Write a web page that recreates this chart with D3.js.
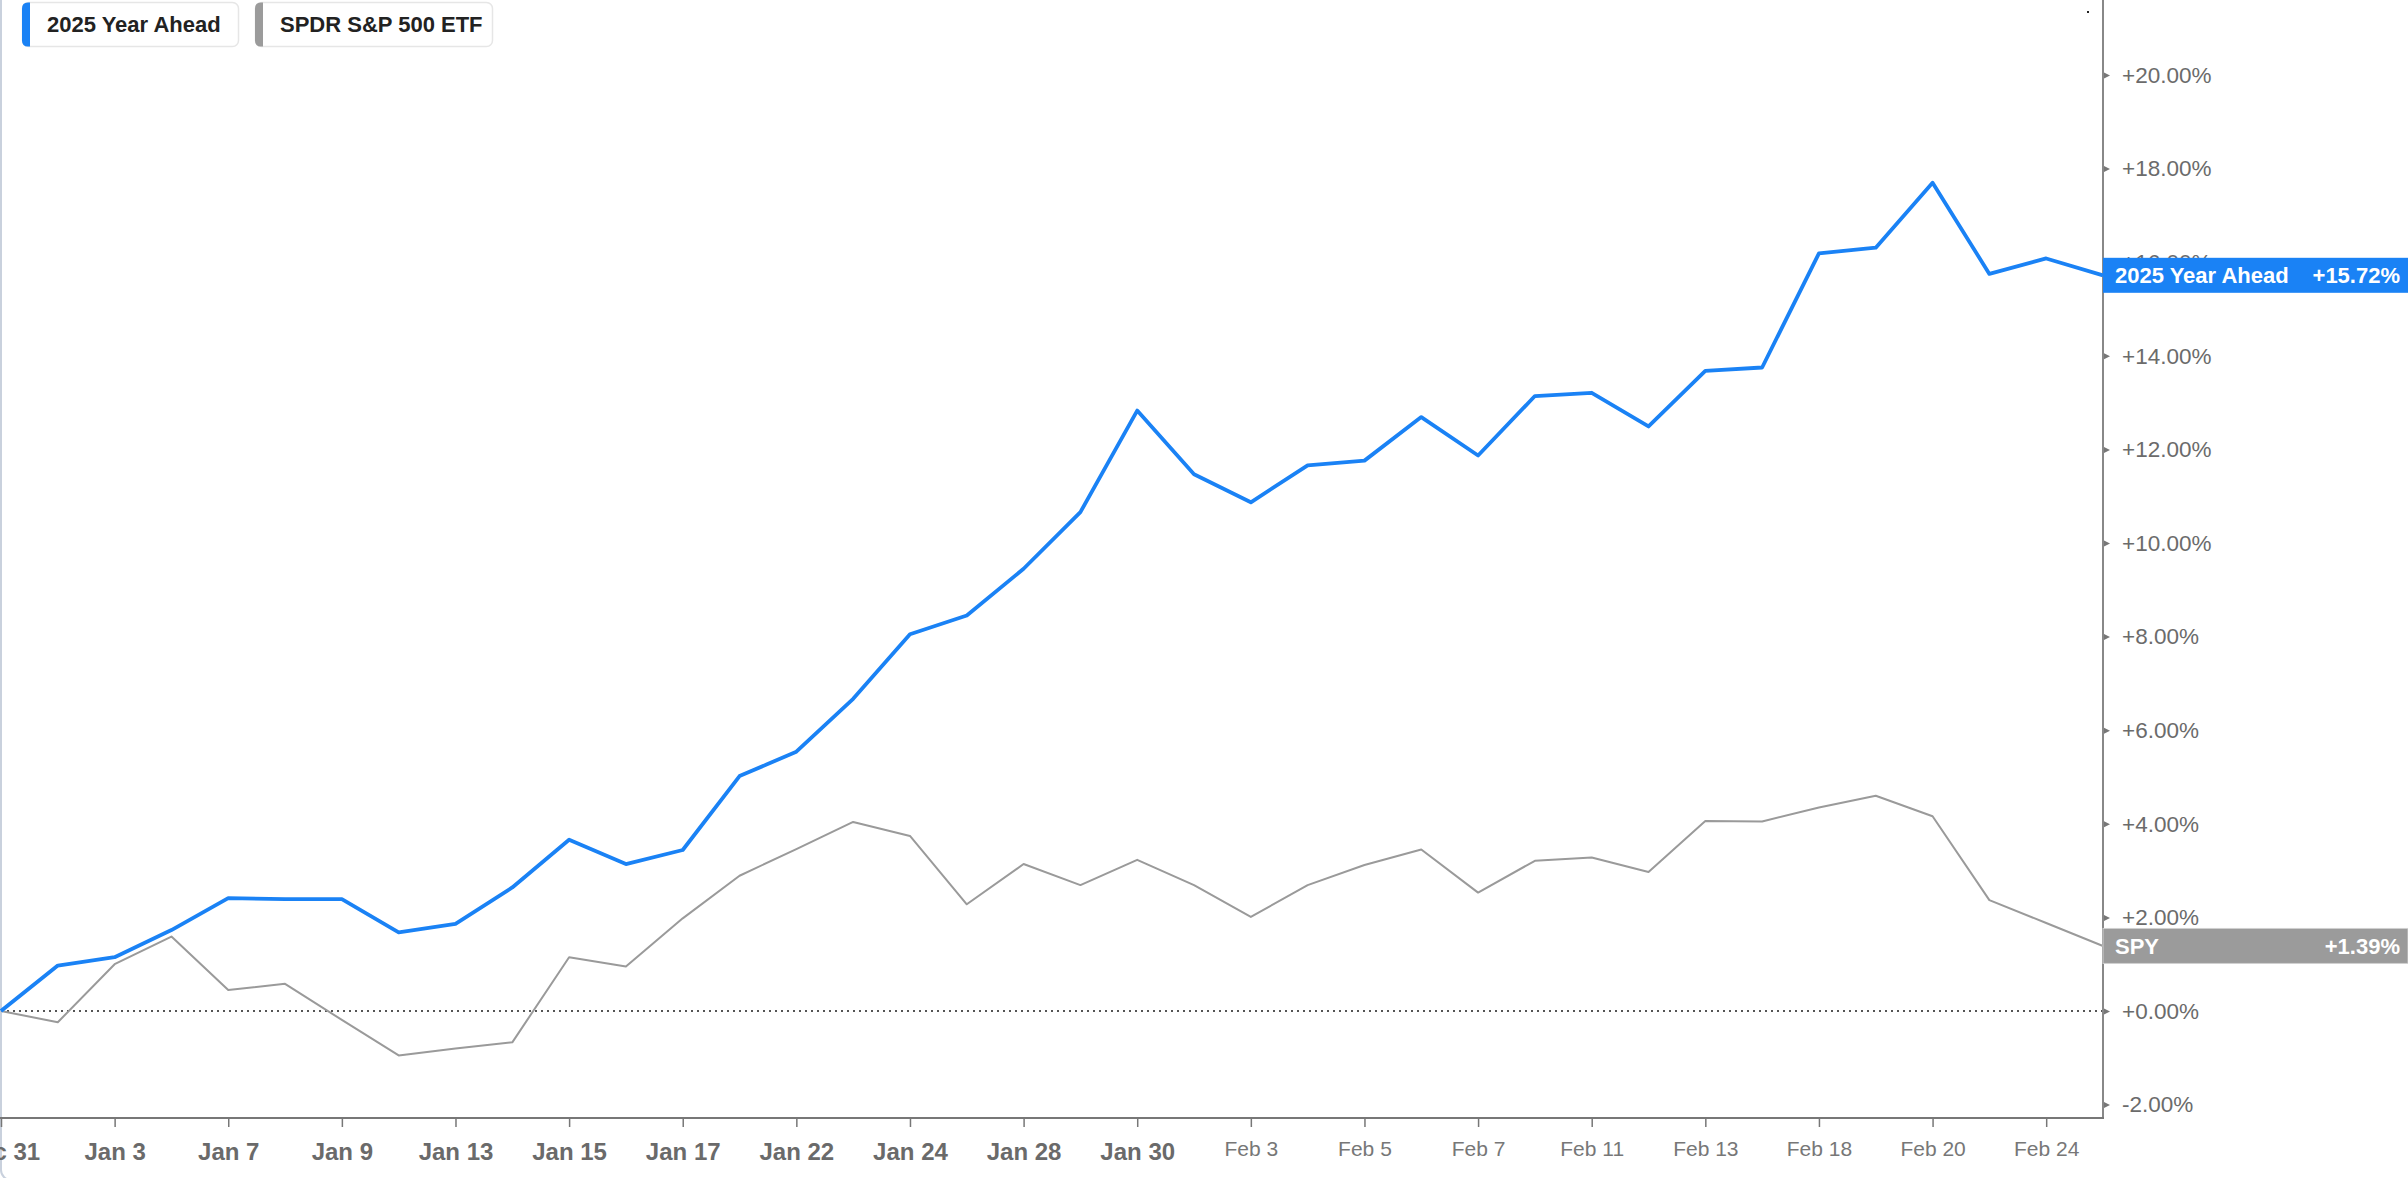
<!DOCTYPE html>
<html>
<head>
<meta charset="utf-8">
<script src="https://cdn.jsdelivr.net/npm/d3@7"></script>
<style>
  html, body { margin: 0; padding: 0; background: #fff; overflow: hidden; }
  svg { display: block; }
</style>
</head>
<body>
<svg id="chart" width="2408" height="1178"></svg>
<script>
// ---- data ----
const dates = ["Dec 31","Jan 2","Jan 3","Jan 6","Jan 7","Jan 8","Jan 9","Jan 10","Jan 13","Jan 14",
  "Jan 15","Jan 16","Jan 17","Jan 21","Jan 22","Jan 23","Jan 24","Jan 27","Jan 28","Jan 29",
  "Jan 30","Jan 31","Feb 3","Feb 4","Feb 5","Feb 6","Feb 7","Feb 10","Feb 11","Feb 12",
  "Feb 13","Feb 14","Feb 18","Feb 19","Feb 20","Feb 21","Feb 24","Feb 25"];
const yearAhead = [0, 0.97, 1.15, 1.73, 2.41, 2.39, 2.39, 1.68, 1.86, 2.64,
  3.66, 3.14, 3.44, 5.02, 5.54, 6.67, 8.05, 8.45, 9.45, 10.66,
  12.83, 11.47, 10.87, 11.66, 11.76, 12.69, 11.87, 13.14, 13.21, 12.49,
  13.68, 13.75, 16.19, 16.31, 17.70, 15.75, 16.08, 15.72];
const spy = [0, -0.24, 1.00, 1.59, 0.45, 0.58, -0.19, -0.95, -0.80, -0.67,
  1.15, 0.95, 1.98, 2.89, 3.46, 4.04, 3.74, 2.28, 3.14, 2.69,
  3.23, 2.69, 2.01, 2.69, 3.12, 3.45, 2.53, 3.21, 3.28, 2.97,
  4.06, 4.05, 4.35, 4.60, 4.16, 2.37, 1.88, 1.39];
const yTicks = [-2, 0, 2, 4, 6, 8, 10, 12, 14, 16, 18, 20];
const xTickIdx = [0, 2, 4, 6, 8, 10, 12, 14, 16, 18, 20, 22, 24, 26, 28, 30, 32, 34, 36];
const seriesNames = ["2025 Year Ahead", "SPDR S&P 500 ETF"];
const endLabels = ["2025 Year Ahead", "SPY"];
const colors = ["#1a82f5", "#999999"];

// ---- layout ----
const svg = d3.select("#chart");
const plotLeft = 1, plotRight = 2103, plotBottom = 1118;
const x = d3.scaleLinear().domain([0, dates.length - 1]).range([plotLeft, plotRight]);
const y = d3.scaleLinear().domain([0, 20]).range([1011, 75]);
const FONT = "'Liberation Sans', Arial, Helvetica, sans-serif";
const fmt = v => (v < 0 ? "-" : "+") + Math.abs(v).toFixed(2) + "%";

// container border (left + rounded bottom-left corner)
svg.append("rect").attr("x", 1).attr("y", -20).attr("width", 2500).attr("height", 1200)
  .attr("rx", 10).attr("fill", "none").attr("stroke", "#c9d1dd").attr("stroke-width", 2);

// zero dotted line
svg.append("line").attr("x1", plotLeft).attr("x2", plotRight)
  .attr("y1", y(0)).attr("y2", y(0))
  .attr("stroke", "#555").attr("stroke-width", 2).attr("stroke-dasharray", "2,4");

// y axis (right)
const yAxis = d3.axisRight(y).tickValues(yTicks).tickFormat(fmt).tickSize(0).tickPadding(19);
const yg = svg.append("g").attr("transform", `translate(${plotRight},0)`).call(yAxis);
yg.select(".domain").remove();
yg.selectAll("text").attr("font-family", FONT).attr("font-size", 22.5).attr("fill", "#6b6b6b");
yg.selectAll(".tick").append("path").attr("d", "M1,-3L7,0L1,3Z").attr("fill", "#777");
svg.append("line").attr("x1", plotRight).attr("x2", plotRight).attr("y1", 0).attr("y2", plotBottom)
  .attr("stroke", "#888").attr("stroke-width", 2);

// x axis
const xAxis = d3.axisBottom(x).tickValues(xTickIdx).tickFormat(i => dates[i]).tickSize(9).tickPadding(14);
const xg = svg.append("g").attr("transform", `translate(0,${plotBottom})`).call(xAxis);
xg.select(".domain").remove();
xg.selectAll("line").attr("stroke", "#777").attr("stroke-width", 1.5);
xg.selectAll("text").attr("font-family", FONT)
  .attr("font-size", i => dates[i].startsWith("Feb") ? 21 : 24)
  .attr("font-weight", i => dates[i].startsWith("Feb") ? "normal" : "bold")
  .attr("fill", i => dates[i].startsWith("Feb") ? "#777" : "#6a6a6a")
  .attr("dy", i => dates[i].startsWith("Feb") ? "0.71em" : "0.8em");
svg.append("line").attr("x1", 0).attr("x2", plotRight + 1).attr("y1", plotBottom).attr("y2", plotBottom)
  .attr("stroke", "#777").attr("stroke-width", 2);

// lines
const line = d3.line().x((d, i) => x(i)).y(d => y(d));
svg.append("path").datum(spy).attr("d", line).attr("fill", "none")
  .attr("stroke", "#9a9a9a").attr("stroke-width", 2).attr("stroke-linejoin", "round");
svg.append("path").datum(yearAhead).attr("d", line).attr("fill", "none")
  .attr("stroke", colors[0]).attr("stroke-width", 3.8).attr("stroke-linejoin", "round");

// end labels
const lastVals = [yearAhead[yearAhead.length - 1], spy[spy.length - 1]];
lastVals.forEach((v, k) => {
  const g = svg.append("g").attr("transform", `translate(${plotRight},${y(v)})`);
  g.append("rect").attr("x", 0).attr("y", -17.5).attr("width", 2408 - plotRight).attr("height", 35)
    .attr("fill", k === 0 ? colors[0] : "#9b9b9b")
    .attr("stroke", k === 0 ? "none" : "#d0d0d0").attr("stroke-width", 1);
  g.append("text").attr("x", 12).attr("y", 0).attr("dy", "0.35em")
    .attr("font-family", FONT).attr("font-size", 22).attr("font-weight", "bold")
    .attr("fill", "#fff").text(endLabels[k]);
  g.append("text").attr("x", 2400 - plotRight).attr("y", 0).attr("dy", "0.35em")
    .attr("text-anchor", "end")
    .attr("font-family", FONT).attr("font-size", 22).attr("font-weight", "bold")
    .attr("fill", "#fff").text(fmt(v));
});

// small dot near top right
svg.append("rect").attr("x", 2087).attr("y", 11).attr("width", 2).attr("height", 2).attr("fill", "#222");

// legend
const legendX = [22, 255], legendW = [216, 237];
seriesNames.forEach((name, k) => {
  const g = svg.append("g").attr("transform", `translate(${legendX[k]},2)`);
  g.append("rect").attr("x", 0.5).attr("y", 0.5).attr("width", legendW[k]).attr("height", 44)
    .attr("rx", 6).attr("fill", "#fff").attr("stroke", "#e6e6e6").attr("stroke-width", 1.5);
  g.append("path")
    .attr("d", "M8,0.5 L8,44.5 L6,44.5 Q0,44.5 0,38.5 L0,6.5 Q0,0.5 6,0.5 Z")
    .attr("fill", k === 0 ? colors[0] : "#9b9b9b");
  g.append("text").attr("x", 25).attr("y", 22.5).attr("dy", "0.35em")
    .attr("font-family", FONT).attr("font-size", 22).attr("font-weight", "bold")
    .attr("fill", "#222").text(name);
});
</script>
</body>
</html>
